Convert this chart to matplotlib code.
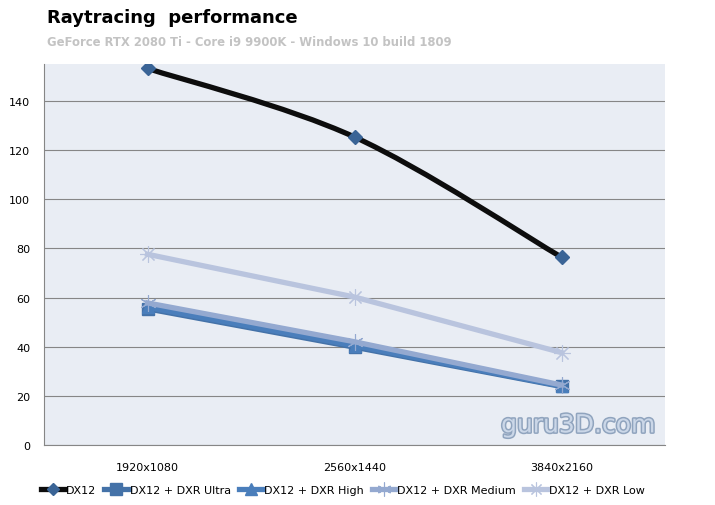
import numpy as np
import matplotlib.pyplot as plt
from matplotlib.path import Path
from matplotlib.patches import PathPatch
from matplotlib.lines import Line2D
import matplotlib.patheffects as pe

resolutions = ['1920x1080', '2560x1440', '3840x2160']
dx12 = [153.2, 125.3, 76.4]
dxr_ultra = [55.4, 39.8, 23.8]
dxr_high = [56.0, 40.4, 24.0]
dxr_medium = [57.8, 42.0, 24.4]
dxr_low = [77.6, 60.2, 37.6]

x = np.arange(len(resolutions))

fig = plt.figure(figsize=(7.15, 5.06), dpi=100)
ax = fig.add_axes([44/715, 1-446/506, 621/715, 381/506])
ax.set_facecolor('#e9edf4')
ax.set_xlim(-0.5, 2.5)
ax.set_ylim(0, 155)
ax.set_yticks(range(0, 141, 20))
ax.set_xticks(x)
ax.set_xticklabels(resolutions)
ax.yaxis.grid(True, color='#868686', lw=0.8)
ax.set_axisbelow(True)
for s in ['top', 'right']:
    ax.spines[s].set_visible(False)
for s in ['left', 'bottom']:
    ax.spines[s].set_color('#868686')
    ax.spines[s].set_linewidth(0.8)
ax.tick_params(axis='both', length=0, labelsize=8, colors='#000000')
ax.tick_params(axis='y', pad=10)
ax.tick_params(axis='x', pad=12)


def smooth_path(xs, ys):
    # excel-style smoothed line (bezier through points)
    xs = np.asarray(xs, float); ys = np.asarray(ys, float)
    verts = [(xs[0], ys[0])]
    codes = [Path.MOVETO]
    n = len(xs)
    for i in range(n - 1):
        p0 = np.array([xs[max(i-1, 0)], ys[max(i-1, 0)]])
        p1 = np.array([xs[i], ys[i]])
        p2 = np.array([xs[i+1], ys[i+1]])
        p3 = np.array([xs[min(i+2, n-1)], ys[min(i+2, n-1)]])
        c1 = p1 + (p2 - p0) / 6
        c2 = p2 - (p3 - p1) / 6
        verts += [tuple(c1), tuple(c2), tuple(p2)]
        codes += [Path.CURVE4] * 3
    return Path(verts, codes)


lw = 3.8
ax.add_patch(PathPatch(smooth_path(x, dx12), fill=False, ec='#0d0d0d', lw=lw,
                       capstyle='round', zorder=5))
ax.plot(x, dx12, ls='none', marker='D', ms=7, color='#3a6496', zorder=6)

ax.plot(x, dxr_low, color='#b9c4de', lw=lw, zorder=3)
ax.plot(x, dxr_low, ls='none', marker=(8, 2, 0), ms=12, mec='#b9c4de', mew=0.8, zorder=3)
ax.plot(x, dxr_ultra, color='#4472a8', lw=lw, marker='s', ms=9, zorder=3)
ax.plot(x, dxr_high, color='#4a7ebb', lw=lw, marker='^', ms=9, zorder=3)
ax.plot(x, dxr_medium, color='#94a9d0', lw=lw, zorder=4)
ax.plot(x, dxr_medium, ls='none', marker=(6, 2, 0), ms=12, mec='#94a9d0', mew=0.8, zorder=4)

fig.text(47/715, 1-18/506, 'Raytracing  performance', fontsize=13, fontweight='heavy',
         va='center', ha='left', color='#000000')
fig.text(47/715, 1-42/506, 'GeForce RTX 2080 Ti - Core i9 9900K - Windows 10 build 1809',
         fontsize=8.4, fontweight='bold', va='center', ha='left', color='#c3c3c3')

ax.text(0.985, 0.02, 'guru3D.com', transform=ax.transAxes, ha='right', va='bottom',
        fontsize=18, color='#cbd7e8', zorder=2,
        path_effects=[pe.withStroke(linewidth=2.2, foreground='#90a4be')])

handles = [
    Line2D([], [], color='#0d0d0d', lw=lw, marker='D', ms=6, mfc='#3a6496', mec='#3a6496'),
    Line2D([], [], color='#4472a8', lw=lw, marker='s', ms=8),
    Line2D([], [], color='#4a7ebb', lw=lw, marker='^', ms=8),
    Line2D([], [], color='#94a9d0', lw=lw, marker=(6, 2, 0), ms=10, mew=0.8),
    Line2D([], [], color='#b9c4de', lw=lw, marker=(8, 2, 0), ms=10, mew=0.8),
]
labels = ['DX12', 'DX12 + DXR Ultra', 'DX12 + DXR High', 'DX12 + DXR Medium', 'DX12 + DXR Low']
fig.legend(handles, labels, loc='center', bbox_to_anchor=(343/715, 1-491/506), ncol=5,
           frameon=False, fontsize=8, handlelength=2.2, handletextpad=0.1,
           columnspacing=0.7)

fig.savefig('out.png', dpi=100)
